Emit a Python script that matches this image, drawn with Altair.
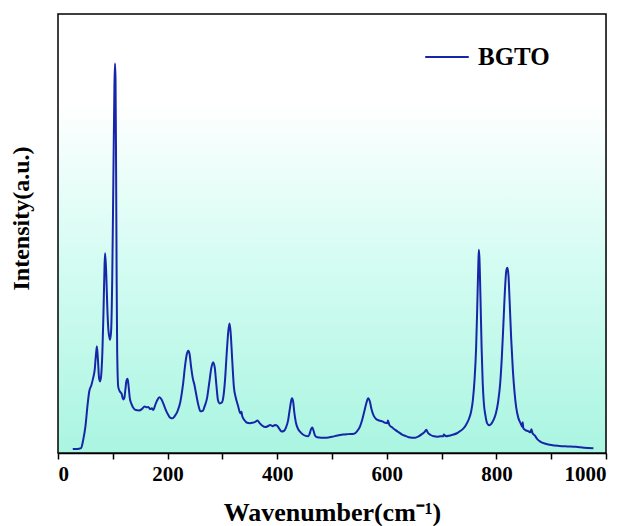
import altair as alt
import pandas as pd

# Raman spectrum of BGTO (intensity in arbitrary units, scaled 0-1)
wavenumber = [27, 35, 42, 46, 50, 54, 57, 61, 64, 67, 69, 71, 73, 75, 77, 79, 81, 83, 85, 86,
              88, 90, 92, 95, 97, 99, 101, 103, 104, 105, 106, 107, 108, 110, 113, 116, 119,
              121, 123, 125, 127, 129, 131, 134, 138, 142, 148, 153, 158, 162, 165, 168, 171,
              174, 177, 181, 185, 189, 193, 197, 201, 205, 209, 213, 218, 223, 228, 232, 235,
              238, 240, 243, 246, 249, 252, 256, 260, 264, 268, 272, 276, 280, 283, 286, 289,
              292, 295, 299, 302, 305, 308, 311, 313, 315, 318, 321, 324, 328, 333, 335, 336,
              340, 345, 350, 355, 360, 364, 368, 373, 378, 383, 387, 392, 396, 400, 404, 408,
              412, 416, 420, 423, 426, 427, 429, 431, 434, 438, 442, 447, 452, 456, 459, 462,
              464, 466, 469, 473, 480, 490, 500, 510, 520, 530, 540, 546, 551, 555, 559, 563,
              566, 569, 572, 576, 580, 586, 592, 597, 601, 602, 605, 610, 616, 622, 628, 634,
              640, 646, 652, 658, 664, 669, 672, 675, 680, 686, 692, 698, 703, 704, 708, 715,
              722, 728, 734, 740, 745, 750, 754, 757, 760, 763, 765, 767, 768, 769, 771, 773,
              775, 777, 780, 783, 787, 791, 795, 799, 803, 807, 810, 813, 816, 818, 820, 822,
              824, 827, 830, 833, 836, 840, 844, 847, 848, 849, 853, 858, 862, 864, 866, 870,
              875, 880, 890, 900, 915, 930, 945, 960, 977]
intensity = [0.009, 0.009, 0.011, 0.03, 0.06, 0.11, 0.14, 0.155, 0.17, 0.19, 0.22, 0.243, 0.21,
             0.17, 0.163, 0.18, 0.23, 0.32, 0.43, 0.455, 0.41, 0.33, 0.28, 0.258, 0.28, 0.40,
             0.62, 0.84, 0.887, 0.85, 0.65, 0.40, 0.23, 0.15, 0.14, 0.135, 0.122, 0.125, 0.145,
             0.165, 0.169, 0.15, 0.125, 0.112, 0.102, 0.098, 0.097, 0.1, 0.106, 0.104, 0.105,
             0.1, 0.102, 0.098, 0.108, 0.12, 0.127, 0.122, 0.11, 0.097, 0.087, 0.08, 0.079,
             0.084, 0.095, 0.115, 0.155, 0.2, 0.225, 0.233, 0.226, 0.195, 0.17, 0.155, 0.135,
             0.11, 0.095, 0.096, 0.108, 0.125, 0.16, 0.195, 0.207, 0.195, 0.155, 0.12, 0.113,
             0.115, 0.13, 0.17, 0.23, 0.28, 0.295, 0.275, 0.21, 0.15, 0.128, 0.11, 0.09, 0.094,
             0.085, 0.075, 0.069, 0.068, 0.069, 0.071, 0.074, 0.068, 0.062, 0.059, 0.061, 0.064,
             0.061, 0.064, 0.062, 0.055, 0.049, 0.05, 0.058, 0.075, 0.1, 0.122, 0.125, 0.118,
             0.095, 0.07, 0.055, 0.048, 0.042, 0.039, 0.038, 0.043, 0.055, 0.058, 0.052, 0.04,
             0.036, 0.035, 0.035, 0.037, 0.04, 0.042, 0.043, 0.044, 0.05, 0.06, 0.075, 0.095,
             0.115, 0.125, 0.118, 0.1, 0.085, 0.078, 0.074, 0.072, 0.069, 0.068, 0.074, 0.063,
             0.058, 0.052, 0.047, 0.042, 0.039, 0.036, 0.035, 0.035, 0.038, 0.043, 0.048, 0.053,
             0.046, 0.041, 0.038, 0.037, 0.038, 0.038, 0.042, 0.038, 0.04, 0.042, 0.045, 0.05,
             0.056, 0.065, 0.078, 0.095, 0.12, 0.165, 0.24, 0.33, 0.43, 0.463, 0.445, 0.35,
             0.24, 0.16, 0.115, 0.085, 0.068, 0.063, 0.067, 0.076, 0.09, 0.115, 0.16, 0.22,
             0.30, 0.38, 0.415, 0.422, 0.405, 0.35, 0.26, 0.19, 0.14, 0.105, 0.08, 0.068, 0.06,
             0.07, 0.057, 0.052, 0.05, 0.047, 0.054, 0.045, 0.04, 0.031, 0.026, 0.021, 0.018,
             0.016, 0.015, 0.014, 0.012, 0.011]
series_name = "BGTO"

df = pd.DataFrame({"wavenumber": wavenumber, "intensity": intensity, "sample": series_name})

W, H = 548, 439
FONT = "Liberation Serif"
LINE_COLOR = "#1726a8"

one_row = pd.DataFrame({"k": [0]})

# plot-area background: white at the top fading into pale aquamarine
background = alt.Chart(one_row).mark_rect(
    color=alt.Gradient(
        gradient="linear",
        stops=[
            alt.GradientStop(color="#ffffff", offset=0),
            alt.GradientStop(color="#ffffff", offset=0.2),
            alt.GradientStop(color="#d6fcf3", offset=0.55),
            alt.GradientStop(color="#aaf5e1", offset=1),
        ],
        x1=0, x2=0, y1=0, y2=1,
    )
).encode(x=alt.value(0), x2=alt.value(W), y=alt.value(0), y2=alt.value(H))

# black frame drawn above the background
frame = alt.Chart(one_row).mark_rect(
    fillOpacity=0, stroke="black", strokeWidth=1.5
).encode(x=alt.value(0), x2=alt.value(W), y=alt.value(0), y2=alt.value(H))

x_ticks = list(range(0, 1001, 100))

spectrum = alt.Chart(df).mark_line(strokeWidth=2, interpolate="monotone").encode(
    x=alt.X(
        "wavenumber:Q",
        scale=alt.Scale(domain=[0, 1000], nice=False),
        axis=alt.Axis(
            title="Wavenumber(cm⁻¹)",
            values=x_ticks,
            labelExpr="datum.value % 200 == 0 ? datum.label : ''",
            format="d",
            grid=False,
            tickSize=6,
            tickWidth=1.5,
            tickColor="black",
            domainColor="black",
            domainWidth=1.5,
            labelFont=FONT,
            labelFontWeight="bold",
            labelFontSize=21,
            labelColor="black",
            labelPadding=4,
            titleFont=FONT,
            titleFontWeight="bold",
            titleFontSize=26,
            titleColor="black",
            titlePadding=15,
        ),
    ),
    y=alt.Y(
        "intensity:Q",
        scale=alt.Scale(domain=[0, 1], nice=False),
        axis=alt.Axis(
            title="Intensity(a.u.)",
            labels=False,
            ticks=False,
            grid=False,
            domain=False,
            titleFont=FONT,
            titleFontWeight="bold",
            titleFontSize=24,
            titleColor="black",
            titlePadding=25,
            titleY=204,
        ),
    ),
    color=alt.Color(
        "sample:N",
        scale=alt.Scale(range=[LINE_COLOR]),
        legend=alt.Legend(
            title=None,
            orient="none",
            legendX=366,
            legendY=20,
            symbolType="stroke",
            symbolSize=1900,
            symbolStrokeWidth=2,
            labelFont=FONT,
            labelFontWeight="bold",
            labelFontSize=25,
            labelColor="black",
            labelOffset=8,
        ),
    ),
)

chart = alt.layer(background, spectrum, frame).properties(
    width=W,
    height=H,
    padding={"left": 58, "top": 14, "right": 19, "bottom": 73},
    autosize=alt.AutoSizeParams(type="none"),
).configure_view(strokeWidth=0).configure(background="white")

chart.save("out.html", embed_options={"renderer": "svg", "actions": False})
